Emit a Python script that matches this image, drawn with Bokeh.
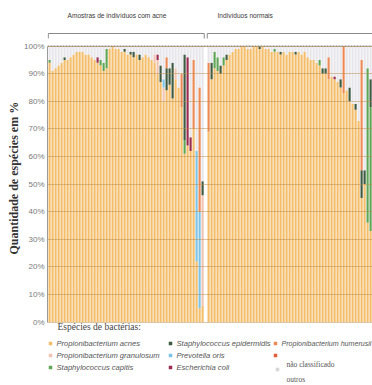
from bokeh.plotting import figure
from bokeh.models import ColumnDataSource, FixedTicker, NumeralTickFormatter, Span, Title
from bokeh.core.properties import value
from bokeh.embed import file_html
from bokeh.resources import INLINE

# ---------------- data ----------------
group_labels = ["Amostras de indivíduos com acne", "Indivíduos normais"]
species = ["Propionibacterium acnes", "Propionibacterium granulosum", "Staphylococcus capitis",
           "Staphylococcus epidermidis", "Prevotella oris", "Escherichia coli",
           "Propionibacterium humerusii", ""]
y_ticks = [0.0, 0.1, 0.2, 0.3, 0.4, 0.5, 0.6, 0.7, 0.8, 0.9, 1.0]

# acne group (52 samples)
acne_acnes = [0.94, 0.91, 0.92, 0.93, 0.94, 0.95, 0.95, 0.96, 0.97, 0.98,
              0.98, 0.98, 0.97, 0.97, 0.96, 0.95, 0.94, 0.93, 0.91, 0.92,
              0.99, 1.00, 0.99, 0.99, 0.98, 0.98, 0.97, 0.97, 0.96, 0.97,
              0.95, 0.96, 0.97, 0.96, 0.95, 0.94, 0.90, 0.87, 0.80, 0.84,
              0.86, 0.81, 0.88, 0.85, 0.78, 0.61, 0.64, 0.62, 0.70, 0.22,
              0.05, 0.06]
acne_granulosum = [0] * 35 + [0.03, 0.05, 0, 0.05, 0, 0, 0, 0.04, 0, 0, 0, 0, 0, 0, 0, 0, 0.40]
acne_capitis = [0.01] + [0] * 16 + [0.02, 0.03, 0.07] + [0] * 25 + [0.05, 0, 0, 0, 0, 0, 0]
acne_epidermidis = [0, 0, 0, 0, 0, 0.01] + [0] * 19 + [0.01, 0, 0.01, 0.02, 0, 0.02] + [0] * 6 + \
                   [0.06, 0, 0.08, 0.06, 0.13, 0, 0, 0, 0.31, 0, 0, 0, 0, 0, 0.05]
acne_prevotella = [0] * 38 + [0.03] + [0] * 10 + [0.40, 0.35, 0]
acne_ecoli = [0] * 16 + [0.02] + [0] * 19 + [0.02] + [0] * 9 + [0.32, 0.05, 0, 0, 0, 0]
acne_humerusii = [0] * 39 + [0.04] + [0] * 4 + [0.12, 0, 0, 0, 0.25, 0, 0.45, 0]

# normal group (55 samples)
norm_acnes = [0.69, 0.88, 0.92, 0.91, 0.90, 0.93, 0.95, 0.97, 0.98, 0.99,
              0.99, 1.00, 1.00, 0.99, 0.99, 1.00, 1.00, 0.99, 1.00, 0.99,
              0.99, 0.98, 0.98, 0.98, 0.97, 0.98, 0.97, 0.98, 0.98, 0.97,
              0.98, 0.97, 0.98, 0.96, 0.95, 0.95, 0.94, 0.93, 0.90, 0.90,
              0.88, 0.89, 0.88, 0.87, 0.85, 0.83, 0.84, 0.80, 0.79, 0.77,
              0.73, 0.45, 0.50, 0.36, 0.33]
norm_granulosum = [0] * 55
norm_capitis = [0, 0, 0.06, 0.05, 0, 0.03] + [0] * 16 + [0.01] + [0] * 14 + [0.02] + [0] * 15 + [0.56, 0.45]
norm_epidermidis = [0, 0.06, 0, 0, 0.03, 0, 0.02] + [0] * 10 + [0.01] + [0] * 6 + [0.01] + [0] * 4 + \
                   [0.01] + [0] * 8 + [0.02, 0.02, 0, 0, 0, 0, 0.03, 0, 0, 0.05, 0, 0.02, 0, 0.10, 0.05, 0, 0.10]
norm_prevotella = [0] * 55
norm_ecoli = [0] * 42 + [0.01] + [0] * 12
norm_humerusii = [0.25] + [0] * 39 + [0.08] + [0] * 4 + [0.17] + [0] * 5 + [0.40, 0, 0, 0]

# ---------------- layout helpers (pixel geometry of the picture) ----------------
W, H = 372, 385
FRAME_LEFT = 47
X_START = -0.7
SLOT_PX = 3.0
Y0_PX, PX_PER_UNIT = 321.5, 275.8          # canvas y of 0 %, pixels per 100 %
Y_TOP = Y0_PX / PX_PER_UNIT
Y_BOT = -(H - Y0_PX) / PX_PER_UNIT


def dx(px):
    return X_START + (px - FRAME_LEFT) / SLOT_PX


def dy(py):
    return (Y0_PX - py) / PX_PER_UNIT


# ---------------- source ----------------
n_acne, n_norm = len(acne_acnes), len(norm_acnes)
xs = list(range(n_acne)) + [n_acne + 1 + j for j in range(n_norm)]
cols = {
    "acnes": acne_acnes + norm_acnes,
    "granulosum": acne_granulosum + norm_granulosum,
    "capitis": acne_capitis + norm_capitis,
    "epidermidis": acne_epidermidis + norm_epidermidis,
    "prevotella": acne_prevotella + norm_prevotella,
    "ecoli": acne_ecoli + norm_ecoli,
    "humerusii": acne_humerusii + norm_humerusii,
}
stack_keys = list(cols.keys())
cols["unclass"] = [max(0.0, 1.0 - sum(cols[k][i] for k in stack_keys)) for i in range(len(xs))]
cols["x"] = xs
source = ColumnDataSource(cols)

colors = {
    "acnes": "#f3bd6a",
    "granulosum": "#f0c3b3",
    "capitis": "#5fa556",
    "epidermidis": "#3e5b41",
    "prevotella": "#7cc4e6",
    "ecoli": "#9c2b50",
    "humerusii": "#ec8a55",
    "unnamed": "#e2603a",
    "unclass": "#e6e6eb",
}

p = figure(width=W, height=H, x_range=(X_START, X_START + (W - FRAME_LEFT) / SLOT_PX),
           y_range=(Y_BOT, Y_TOP), x_axis_type=None,
           output_backend="svg", toolbar_location=None,
           min_border_left=FRAME_LEFT, min_border_right=0, min_border_top=0, min_border_bottom=0)
p.outline_line_color = None
p.background_fill_color = "white"
p.border_fill_color = "white"

keys = stack_keys + ["unclass"]
p.vbar_stack(keys, x="x", width=0.72, source=source,
             fill_color=[colors[k] for k in keys], line_color=None)

# y axis
p.yaxis.ticker = FixedTicker(ticks=y_ticks)
p.yaxis.formatter = NumeralTickFormatter(format="0%")
p.yaxis.bounds = (0, 1)
p.yaxis.axis_line_color = "#9a9a9a"
p.yaxis.major_tick_line_color = None
p.yaxis.minor_tick_line_color = None
p.yaxis.major_tick_out = 0
p.yaxis.major_tick_in = 0
p.yaxis.major_label_standoff = 3
p.yaxis.major_label_text_font = "Liberation Sans"
p.yaxis.major_label_text_font_size = "8px"
p.yaxis.major_label_text_color = "#7a7a7a"

p.ygrid.level = "overlay"
p.ygrid.grid_line_color = "#b98b4c"
p.ygrid.grid_line_alpha = 0.5
p.xgrid.visible = False

p.add_layout(Span(location=1.0, dimension="width", line_color="#8e8e8e",
                  line_dash="2 1", line_width=1.5))

# y axis title (vertical, reads bottom to top)
p.add_layout(Title(text="Quantidade de espécies em %", align="left", offset=H - 254,
                   text_font="Liberation Serif", text_font_style="bold",
                   text_font_size="12px", text_color="#333333", standoff=2), "left")

# group brackets and titles
yb_top, yb_low = dy(33), dy(38)
a0, a1 = xs[0] - 0.45, xs[n_acne - 1] + 0.55
n0, n1 = xs[n_acne] - 0.45, xs[-1] + 3
for g0, g1 in [(a0, a1), (n0, n1)]:
    p.line([g0, g0, g1, g1], [yb_low, yb_top, yb_top, yb_low], line_color="#8a8a8a", line_width=1)
p.text(x=[dx(67), dx(217)], y=[dy(15), dy(15)], text=group_labels,
       text_font=value("Liberation Sans"), text_font_size="6.6px", text_color="#3a3a3a",
       text_baseline="middle", text_align="left")

# legend
p.text(x=[dx(57)], y=[dy(326)], text=["Espécies de bactérias:"],
       text_font=value("Liberation Serif"), text_font_size="9.5px", text_color="#444444",
       text_baseline="middle")
leg_keys = ["acnes", "granulosum", "capitis", "epidermidis", "prevotella", "ecoli", "humerusii", "unnamed"]
col_px = [50, 170, 275]
row_px = [343, 355, 367]
mx, my, mc = [], [], []
tx, ty, tt, tsz = [], [], [], []
for i, k in enumerate(leg_keys):
    c, r = divmod(i, 3)
    mx.append(dx(col_px[c])); my.append(dy(row_px[r])); mc.append(colors[k])
    if species[i]:
        tx.append(dx(col_px[c] + 6)); ty.append(dy(row_px[r])); tt.append(species[i])
        tsz.append("7.1px" if c == 2 else "7.6px")
mx.append(dx(277)); my.append(dy(369)); mc.append("#d6d6d6")
p.scatter(x=mx, y=my, marker="square", size=3.5, fill_color=mc, line_color=None)
leg_src = ColumnDataSource(dict(x=tx, y=ty, text=tt, size=tsz))
p.text(x="x", y="y", text="text", text_font_size="size", source=leg_src,
       text_font=value("Liberation Sans"), text_font_style="italic",
       text_color="#555555", text_baseline="middle")
p.text(x=[dx(286), dx(286)], y=[dy(364), dy(379)], text=["não classificado", "outros"],
       text_font=value("Liberation Serif"), text_font_size="7.5px", text_color="#555555",
       text_baseline="middle")

open("out.html", "w").write(file_html(p, INLINE))
